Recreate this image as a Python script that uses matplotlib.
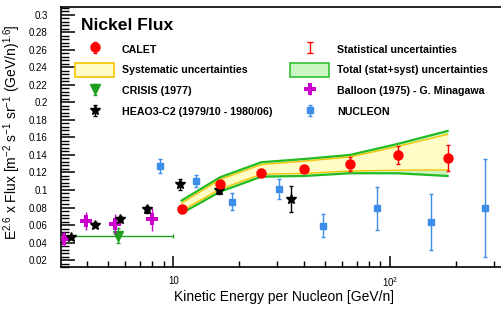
import numpy as np
import matplotlib
matplotlib.use('Agg')
import matplotlib.pyplot as plt
from matplotlib.patches import Patch
from matplotlib.ticker import FixedLocator, NullFormatter

plt.rcParams['font.family'] = 'Liberation Sans'
plt.rcParams['mathtext.fontset'] = 'custom'
plt.rcParams['mathtext.rm'] = 'Liberation Sans'
plt.rcParams['mathtext.it'] = 'Liberation Sans:italic'

# CALET
calet_e = [10.9, 16.4, 25.4, 40.1, 65, 108, 183.6]
calet_f = [0.0783, 0.1065, 0.1194, 0.1236, 0.1297, 0.140, 0.1369]
calet_err = [0.001, 0.002, 0.002, 0.003, 0.0075, 0.0105, 0.015]
# total (stat+syst) band
tot_lo = [0.0734, 0.098, 0.1152, 0.116, 0.1191, 0.1191, 0.116]
tot_hi = [0.088, 0.1145, 0.1317, 0.1354, 0.140, 0.1526, 0.1674]
# systematic band
sys_lo = [0.0763, 0.101, 0.118, 0.119, 0.1217, 0.1226, 0.1229]
sys_hi = [0.085, 0.112, 0.129, 0.133, 0.1377, 0.1497, 0.1636]

# CRISIS (1977)
crisis_e = [5.54]
crisis_f = [0.048]
crisis_err = [0.009]
crisis_xlo = [2.5]
crisis_xhi = [10.0]

# HEAO3-C2
heao_e = [3.37, 4.33, 5.64, 7.52, 10.67, 16.2, 35.0]
heao_f = [0.0459, 0.0603, 0.0669, 0.0779, 0.1068, 0.100, 0.0897]
heao_err = [0.002, 0.003, 0.003, 0.004, 0.0063, 0.005, 0.015]

# Balloon (1975) - G. Minagawa
ball_e = [3.13, 3.94, 5.37, 7.93]
ball_f = [0.0437, 0.0646, 0.0611, 0.0665]
ball_err = [0.008, 0.0107, 0.011, 0.0128]

# NUCLEON
nuc_e = [8.64, 12.66, 18.6, 30.7, 48.7, 86.6, 153.8, 274]
nuc_f = [0.1278, 0.1106, 0.0866, 0.1011, 0.0592, 0.0791, 0.0638, 0.0791]
nuc_err = [0.008, 0.007, 0.0099, 0.011, 0.013, 0.0246, 0.032, 0.056]

y_ticks = [0.02, 0.04, 0.06, 0.08, 0.1, 0.12, 0.14, 0.16, 0.18, 0.2, 0.22, 0.24, 0.26, 0.28, 0.3]
y_tick_labels = ['0.02', '0.04', '0.06', '0.08', '0.1', '0.12', '0.14', '0.16', '0.18',
                 '0.2', '0.22', '0.24', '0.26', '0.28', '0.3']

RED = '#ff0000'
GREEN = '#1f9e1f'
MAGENTA = '#cc00cc'
BLUE = '#3d8ee8'

W, H = 502, 309
fig = plt.figure(figsize=(W / 100, H / 100), dpi=100)
ax = fig.add_axes([61 / W, 1 - 267.3 / H, 1 - 61 / W + 0.01, (267.3 - 7) / H])

# bands
ax.fill_between(calet_e, tot_lo, tot_hi, color='#ccf5c4', lw=0, zorder=1)
ax.plot(calet_e, tot_lo, color='#22bb22', lw=1.6, zorder=2)
ax.plot(calet_e, tot_hi, color='#22bb22', lw=1.6, zorder=2)
ax.fill_between(calet_e, sys_lo, sys_hi, color='#fffcc6', lw=0, zorder=2)
ax.plot(calet_e, sys_lo, color='#f5c400', lw=1.0, zorder=3)
ax.plot(calet_e, sys_hi, color='#f5c400', lw=1.0, zorder=3)

ekw = dict(elinewidth=1.0, capsize=1.5, capthick=1.0, ls='none')

# CRISIS energy range (horizontal bar) drawn separately so the legend shows only the vertical bar
crisis_xerr = [np.array(crisis_e) - np.array(crisis_xlo), np.array(crisis_xhi) - np.array(crisis_e)]
ax.errorbar(crisis_e, crisis_f, xerr=crisis_xerr, fmt='none', color=GREEN, zorder=4, **ekw)
h_crisis = ax.errorbar(crisis_e, crisis_f, yerr=crisis_err, fmt='v', color=GREEN,
                       ms=7, zorder=4, **ekw)
h_ball = ax.errorbar(ball_e, ball_f, yerr=ball_err, fmt='P', color=MAGENTA, ms=8.5,
                     mew=0, zorder=5, **ekw)
h_heao = ax.errorbar(heao_e, heao_f, yerr=heao_err, fmt='*', color='black', ms=7, zorder=6, **ekw)
h_nuc = ax.errorbar(nuc_e, nuc_f, yerr=nuc_err, fmt='s', color=BLUE, ms=4.4, zorder=4, **ekw)
h_calet = ax.errorbar(calet_e, calet_f, yerr=calet_err, fmt='o', color=RED, ms=6.5,
                      zorder=7, **ekw)
# dummy handle for the legend entry "Statistical uncertainties"
h_stat = ax.errorbar([1], [1], yerr=[0.01], fmt='none', color=RED,
                     elinewidth=1.0, capsize=2.5, capthick=1.0, ls='none')

ax.set_xscale('log')
ax.set_xlim(3.03, 345)
ax.set_ylim(0.0117, 0.309)

ax.xaxis.set_major_locator(FixedLocator([10, 100]))
ax.set_xticklabels(['10', r'10$^{2}$'])
ax.xaxis.set_minor_locator(FixedLocator([4, 5, 6, 7, 8, 9, 20, 30, 40, 50, 60, 70, 80, 90, 200, 300]))
ax.xaxis.set_minor_formatter(NullFormatter())
ax.yaxis.set_major_locator(FixedLocator(y_ticks))
ax.yaxis.set_minor_locator(FixedLocator(np.arange(0.012, 0.309, 0.004)))
ax.set_yticklabels(y_tick_labels)

ax.tick_params(which='both', direction='in', top=False, right=False, labelsize=7, color='black')
ax.tick_params(axis='y', which='major', length=10, width=1.1, pad=9.5)
ax.tick_params(axis='y', which='minor', length=5.5, width=1.0)
ax.tick_params(axis='x', which='major', length=8, width=1.1, pad=6)
ax.tick_params(axis='x', which='minor', length=4, width=1.0)
for s in ['left', 'bottom', 'top']:
    ax.spines[s].set_linewidth(1.2)
ax.spines['right'].set_visible(False)

ax.set_xlabel('Kinetic Energy per Nucleon [GeV/n]', fontsize=10)
ax.set_ylabel(r'E$^{2.6}$ x Flux [m$^{-2}$ s$^{-1}$ sr$^{-1}$ (GeV/n)$^{1.6}$]', fontsize=10)
ax.xaxis.set_label_coords(0.5, (267.3 - 297.5) / 260.3)
ax.xaxis.label.set_va('center')
ax.yaxis.set_label_coords((13 - 61) / 441, (267.3 - 132) / 260.3)
ax.yaxis.label.set_va('center')

fig.text(81 / W, 1 - 25 / H, 'Nickel Flux', fontsize=12.6, fontweight='bold', va='center', ha='left')

sys_patch = Patch(facecolor='#fffcc6', edgecolor='#f5c400', lw=1.2)
tot_patch = Patch(facecolor='#ccf5c4', edgecolor='#33c033', lw=1.2)
handles = [h_calet, sys_patch, h_crisis, h_heao, h_stat, tot_patch, h_ball, h_nuc]
labels = ['CALET', 'Systematic uncertainties', 'CRISIS (1977)', 'HEAO3-C2 (1979/10 - 1980/06)',
          'Statistical uncertainties', 'Total (stat+syst) uncertainties',
          'Balloon (1975) - G. Minagawa', 'NUCLEON']
leg = fig.legend(handles, labels, ncol=2, frameon=False, loc='upper left',
                 bbox_to_anchor=(75 / W, 1 - 42.2 / H), prop={'weight': 'bold', 'size': 7.7},
                 handlelength=3.65, handleheight=1.59, handletextpad=0.72, labelspacing=0.68,
                 columnspacing=1.7, borderpad=0, borderaxespad=0)

fig.savefig('out.png', dpi=100)
